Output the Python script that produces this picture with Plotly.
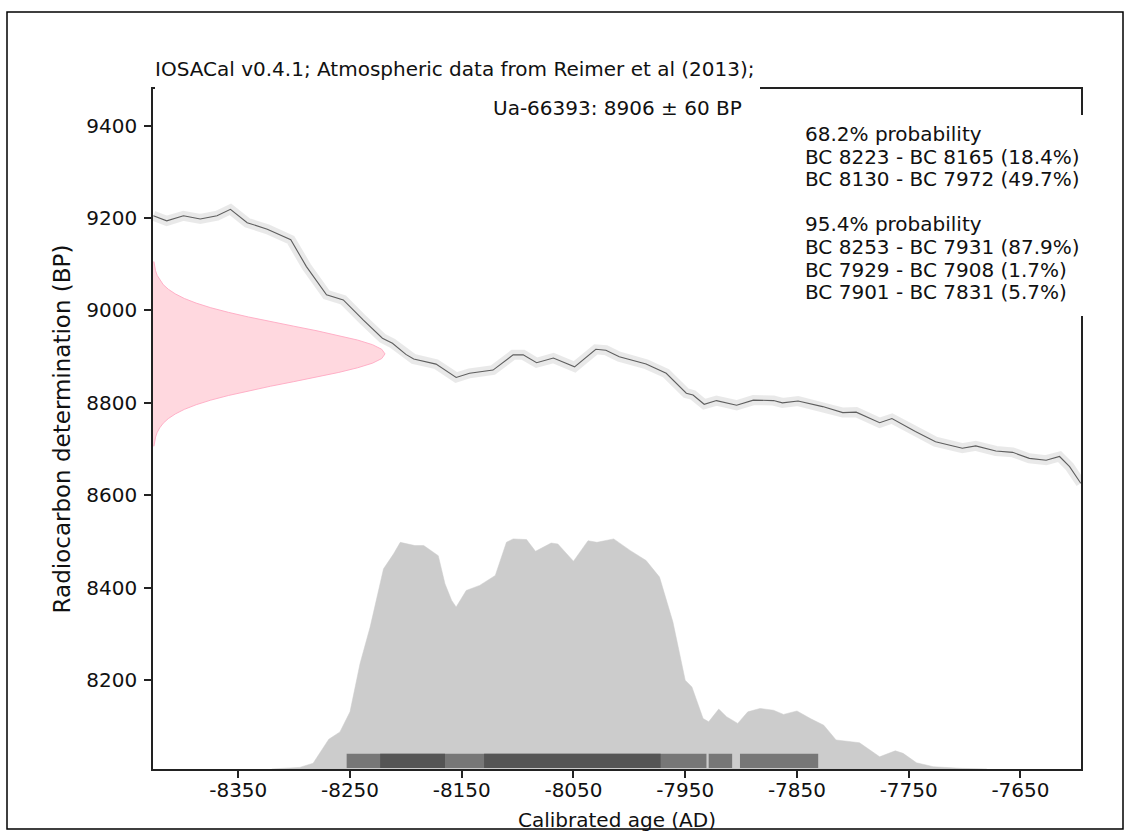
import plotly.graph_objects as go

# ---------------- data ----------------
# Calibration curve (IntCal13 segment): calendar year (AD, negative = BC) vs radiocarbon age (BP)
cal_curve_year = [-8426, -8414, -8399, -8384, -8369, -8357, -8342, -8324, -8303, -8289, -8271, -8256,
                  -8238, -8221, -8212, -8200, -8193, -8173, -8155, -8143, -8122, -8104, -8095, -8083,
                  -8068, -8049, -8030, -8021, -8009, -7985, -7967, -7949, -7943, -7933, -7922, -7904,
                  -7889, -7871, -7863, -7849, -7827, -7809, -7797, -7776, -7765, -7744, -7726, -7702,
                  -7690, -7672, -7657, -7642, -7627, -7615, -7606, -7596]
cal_curve_bp = [9205, 9194, 9205, 9198, 9205, 9219, 9190, 9176, 9153, 9095, 9034, 9023,
                8979, 8940, 8929, 8905, 8895, 8884, 8855, 8864, 8871, 8904, 8904, 8887,
                8897, 8878, 8916, 8914, 8900, 8884, 8864, 8821, 8817, 8797, 8805, 8795,
                8806, 8805, 8800, 8804, 8792, 8779, 8780, 8757, 8766, 8738, 8716, 8702,
                8707, 8696, 8693, 8680, 8676, 8684, 8662, 8626]

# Radiocarbon determination (relative density along the BP axis)
c14_bp = [8706, 8716, 8726, 8736, 8746, 8756, 8766, 8776, 8786, 8796, 8806, 8816, 8826, 8836,
          8846, 8856, 8866, 8876, 8886, 8896, 8906, 8916, 8926, 8936, 8946, 8956, 8966, 8976,
          8986, 8996, 9006, 9016, 9026, 9036, 9046, 9056, 9066, 9076, 9086, 9096, 9106]
c14_density = [0.004, 0.007, 0.011, 0.018, 0.029, 0.044, 0.066, 0.096, 0.135, 0.186, 0.249,
               0.325, 0.411, 0.506, 0.607, 0.707, 0.801, 0.882, 0.946, 0.986, 1.000, 0.986,
               0.946, 0.882, 0.801, 0.707, 0.607, 0.506, 0.411, 0.325, 0.249, 0.186, 0.135,
               0.096, 0.066, 0.044, 0.029, 0.018, 0.011, 0.007, 0.004]

# Calibrated age probability distribution (relative)
dist_year = [-8320, -8295, -8283, -8269, -8259, -8250, -8241, -8232, -8220, -8211, -8205, -8192,
             -8184, -8171, -8165, -8159, -8155, -8146, -8134, -8120, -8110, -8104, -8092, -8084,
             -8070, -8064, -8050, -8037, -8029, -8014, -7999, -7985, -7973, -7961, -7950, -7944,
             -7934, -7929, -7920, -7913, -7903, -7894, -7883, -7871, -7862, -7850, -7838, -7826,
             -7815, -7803, -7794, -7776, -7762, -7755, -7743, -7728, -7704, -7680]
dist_prob = [0.0, 0.007, 0.025, 0.129, 0.161, 0.248, 0.458, 0.616, 0.869, 0.934, 0.984, 0.970,
             0.970, 0.926, 0.804, 0.732, 0.703, 0.775, 0.797, 0.840, 0.984, 0.999, 0.996, 0.945,
             0.981, 0.977, 0.902, 0.991, 0.984, 0.999, 0.948, 0.905, 0.833, 0.638, 0.385, 0.356,
             0.219, 0.205, 0.260, 0.227, 0.198, 0.248, 0.263, 0.255, 0.237, 0.252, 0.219, 0.190,
             0.126, 0.118, 0.114, 0.053, 0.079, 0.068, 0.027, 0.010, 0.003, 0.0]

# HPD intervals (start, end, percent)
hpd68_start = [-8223, -8130]
hpd68_end = [-8165, -7972]
hpd68_pct = [18.4, 49.7]
hpd95_start = [-8253, -7929, -7901]
hpd95_end = [-7931, -7908, -7831]
hpd95_pct = [87.9, 1.7, 5.7]

x_tick_vals = [-8350, -8250, -8150, -8050, -7950, -7850, -7750, -7650]
x_tick_text = ["-8350", "-8250", "-8150", "-8050", "-7950", "-7850", "-7750", "-7650"]
y_tick_vals = [8200, 8400, 8600, 8800, 9000, 9200, 9400]
y_tick_text = ["8200", "8400", "8600", "8800", "9000", "9200", "9400"]

title_text = "IOSACal v0.4.1; Atmospheric data from Reimer et al (2013);"
sample_text = "Ua-66393: 8906 ± 60 BP"
x_title = "Calibrated age (AD)"
y_title = "Radiocarbon determination (BP)"

# ---------------- figure ----------------
W, H = 1131, 836
ML, MR, MT, MB = 153, 50, 89, 67
PW, PH = W - ML - MR, H - MT - MB
FONT = "DejaVu Sans"
TXT = "#111111"


def px_to_paper_x(px):
    return (px - ML) / PW


def py_to_paper_y(py):
    return (H - MB - py) / PH


fig = go.Figure()

# calibration curve: soft band + thin line
fig.add_trace(go.Scatter(x=cal_curve_year, y=cal_curve_bp, mode="lines",
                         line=dict(color="rgba(0,0,0,0.085)", width=10),
                         hoverinfo="skip", showlegend=False))
fig.add_trace(go.Scatter(x=cal_curve_year, y=cal_curve_bp, mode="lines",
                         line=dict(color="#5e5e5e", width=1.1),
                         showlegend=False))

# calibrated probability distribution (twin y axis)
fig.add_trace(go.Scatter(x=dist_year, y=dist_prob, mode="lines", fill="tozeroy",
                         fillcolor="#cccccc", line=dict(color="#cccccc", width=0.5),
                         xaxis="x", yaxis="y2", showlegend=False))

# HPD bars
BAR_Y0, BAR_Y1 = 0.004, 0.066


def rect_path(starts, ends):
    xs, ys = [], []
    for a, b in zip(starts, ends):
        xs += [a, b, b, a, a, None]
        ys += [BAR_Y0, BAR_Y0, BAR_Y1, BAR_Y1, BAR_Y0, None]
    return xs, ys


xs95, ys95 = rect_path(hpd95_start, hpd95_end)
fig.add_trace(go.Scatter(x=xs95, y=ys95, mode="lines", fill="toself", fillcolor="#777777",
                         line=dict(width=0, color="#777777"), xaxis="x", yaxis="y2",
                         showlegend=False))
xs68, ys68 = rect_path(hpd68_start, hpd68_end)
fig.add_trace(go.Scatter(x=xs68, y=ys68, mode="lines", fill="toself", fillcolor="#555555",
                         line=dict(width=0, color="#555555"), xaxis="x", yaxis="y2",
                         showlegend=False))

# radiocarbon determination (twin x axis)
fig.add_trace(go.Scatter(x=c14_density, y=c14_bp, mode="lines", fill="tozerox",
                         fillcolor="rgba(255,200,210,0.7)",
                         line=dict(color="rgba(255,170,195,0.9)", width=1),
                         xaxis="x2", yaxis="y", showlegend=False))

axis_common = dict(showline=True, linecolor="#222222", linewidth=1.5, mirror=True,
                   ticks="outside", ticklen=7, tickwidth=1.5, tickcolor="#222222",
                   showgrid=False, zeroline=False,
                   tickfont=dict(family=FONT, size=20, color=TXT))

fig.update_layout(
    width=W, height=H,
    margin=dict(l=ML, r=MR, t=MT, b=MB, autoexpand=False),
    paper_bgcolor="white", plot_bgcolor="white",
    font=dict(family=FONT, size=20, color=TXT),
    showlegend=False,
    xaxis=dict(range=[-8426.3, -7595.8], tickvals=x_tick_vals, ticktext=x_tick_text,
               ticklabelstandoff=-5,
               title=dict(text=x_title, font=dict(family=FONT, size=20, color=TXT), standoff=12),
               **axis_common),
    yaxis=dict(range=[8007.6, 9479.4], tickvals=y_tick_vals, ticktext=y_tick_text,
               ticklabelstandoff=3,
               title=dict(text=y_title, font=dict(family=FONT, size=23, color=TXT), standoff=9),
               **axis_common),
    xaxis2=dict(overlaying="x", anchor="y", range=[0, 4], visible=False),
    yaxis2=dict(overlaying="y", anchor="x", range=[0, 2.952], visible=False),
)

shapes = []
# white background behind title (hides top spine under it)
shapes.append(dict(type="rect", xref="paper", yref="paper", layer="above",
                   x0=px_to_paper_x(155), x1=px_to_paper_x(760),
                   y0=py_to_paper_y(95), y1=py_to_paper_y(55),
                   fillcolor="white", line=dict(width=0)))
# white background behind probability text box
shapes.append(dict(type="rect", xref="paper", yref="paper", layer="above",
                   x0=px_to_paper_x(795), x1=px_to_paper_x(1090),
                   y0=py_to_paper_y(316), y1=py_to_paper_y(115),
                   fillcolor="white", line=dict(width=0)))
# outer frame
shapes.append(dict(type="rect", xref="paper", yref="paper", layer="above",
                   x0=px_to_paper_x(7), x1=px_to_paper_x(1123),
                   y0=py_to_paper_y(829), y1=py_to_paper_y(12),
                   fillcolor="rgba(0,0,0,0)", line=dict(color="black", width=1.5)))
fig.update_layout(shapes=shapes)

annotations = []
annotations.append(dict(text=title_text, xref="paper", yref="paper",
                        x=px_to_paper_x(153), y=py_to_paper_y(69), xanchor="left", yanchor="middle",
                        showarrow=False, font=dict(family=FONT, size=20, color=TXT)))
annotations.append(dict(text=sample_text, xref="paper", yref="paper",
                        x=0.5, y=py_to_paper_y(108), xanchor="center", yanchor="middle",
                        showarrow=False, font=dict(family=FONT, size=20, color=TXT)))

prob_lines = ["68.2% probability"]
for a, b, p in zip(hpd68_start, hpd68_end, hpd68_pct):
    prob_lines.append(f"BC {-a} - BC {-b} ({p}%)")
prob_lines.append("")
prob_lines.append("95.4% probability")
for a, b, p in zip(hpd95_start, hpd95_end, hpd95_pct):
    prob_lines.append(f"BC {-a} - BC {-b} ({p}%)")

LINE_STEP = 22.6
for i, line in enumerate(prob_lines):
    if not line:
        continue
    annotations.append(dict(text=line, xref="paper", yref="paper",
                            x=px_to_paper_x(803), y=py_to_paper_y(134 + i * LINE_STEP),
                            xanchor="left", yanchor="middle", showarrow=False,
                            font=dict(family=FONT, size=20, color=TXT)))
fig.update_layout(annotations=annotations)

fig.write_html("out.html")
